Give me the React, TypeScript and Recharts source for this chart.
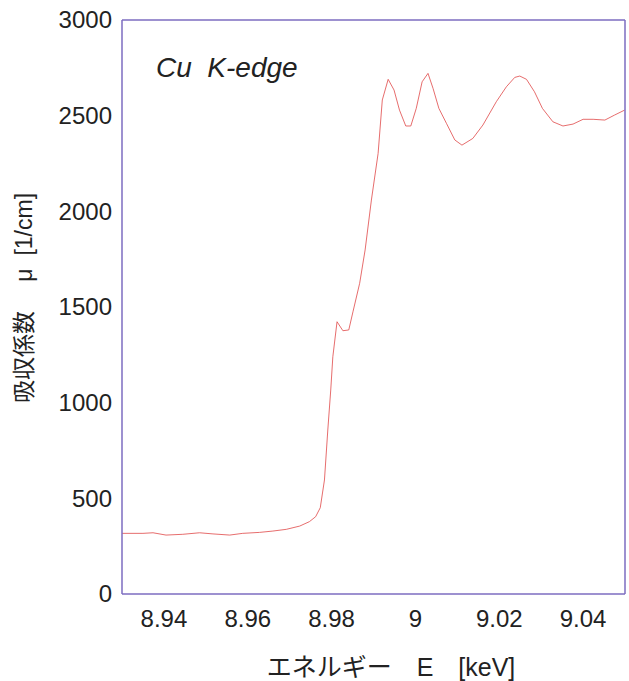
import { LineChart, Line, XAxis, YAxis } from 'recharts'

// photon energy (keV) and absorption coefficient (1/cm)
const energy = [
  8.93, 8.935, 8.9374, 8.9405, 8.9445, 8.9485, 8.9517, 8.9557, 8.9588, 8.9628,
  8.966, 8.9692, 8.9724, 8.9747, 8.9762, 8.9773, 8.9783, 8.9791, 8.9798, 8.9803,
  8.9813, 8.9827, 8.9841, 8.9851, 8.9867, 8.988, 8.9895, 8.9911, 8.9921, 8.9935,
  8.9949, 8.9962, 8.9977, 8.9989, 9.0002, 9.0016, 9.003, 9.0042, 9.0056, 9.0074,
  9.0094, 9.0111, 9.0137, 9.0161, 9.0193, 9.0217, 9.0237, 9.0249, 9.0265, 9.0284,
  9.0303, 9.0328, 9.0352, 9.0376, 9.04, 9.0424, 9.0452, 9.0475, 9.0499,
]
const mu = [
  317, 317, 320, 308, 312, 320, 314, 308, 317, 322,
  329, 338, 355, 378, 404, 451, 596, 857, 1066, 1240,
  1423, 1376, 1380, 1475, 1624, 1798, 2059, 2303, 2582, 2690,
  2634, 2529, 2446, 2446, 2538, 2677, 2721, 2643, 2538, 2460,
  2373, 2346, 2381, 2451, 2573, 2651, 2700, 2707, 2690, 2625,
  2538, 2468, 2446, 2456, 2481, 2481, 2477, 2503, 2529,
]
const xTicks = [8.94, 8.96, 8.98, 9, 9.02, 9.04]
const yTicks = [0, 500, 1000, 1500, 2000, 2500, 3000]
const xDomain = [8.93, 9.05]
const yDomain = [0, 3000]

const data = energy.map((e, i) => ({ e, mu: mu[i] }))

const box = { left: 122, right: 625, top: 20, bottom: 594 }

const font = '"Liberation Sans", Arial, "Noto Sans CJK JP", sans-serif'
const axisLine = { stroke: '#7c6cc0', strokeWidth: 1.5 }
const tickLine = { stroke: '#42309a', strokeWidth: 1.6 }

function XTick(props: any) {
  return (
    <text x={props.x} y={box.bottom + 33} textAnchor="middle" fontFamily={font} fontSize={24} fill="#222">
      {String(props.payload.value)}
    </text>
  )
}

function YTick(props: any) {
  return (
    <text x={box.left - 10} y={props.y} dy="0.35em" textAnchor="end" fontFamily={font} fontSize={24} fill="#222">
      {String(props.payload.value)}
    </text>
  )
}

// mirrored copies of the axes only carry the inward tick marks
const xMirror = {
  dataKey: 'e',
  type: 'number' as const,
  domain: xDomain,
  allowDataOverflow: true,
  ticks: xTicks,
  height: 10,
  mirror: true,
  axisLine: false,
  tickLine,
  tickSize: 9,
  tick: false,
}
const yMirror = {
  type: 'number' as const,
  domain: yDomain,
  allowDataOverflow: true,
  ticks: yTicks,
  width: 10,
  mirror: true,
  axisLine: false,
  tickLine,
  tickSize: 9,
  tick: false,
}

export default function App() {
  return (
    <div style={{ position: 'absolute', left: 0, top: 0 }}>
      <LineChart
        width={629}
        height={681}
        data={data}
        margin={{ top: box.top - 1, right: 629 - box.right - 1, bottom: 0, left: 0 }}
      >
        <XAxis
          xAxisId="b"
          dataKey="e"
          type="number"
          domain={xDomain}
          allowDataOverflow
          ticks={xTicks}
          height={681 - box.bottom}
          axisLine={axisLine}
          tickLine={false}
          tickSize={0}
          tick={<XTick />}
          label={{
            content: () => (
              <text x={391} y={676} textAnchor="middle" fontFamily={font} fontSize={25} fill="#222">
                エネルギー　E　[keV]
              </text>
            ),
          }}
        />
        <XAxis
          xAxisId="t"
          dataKey="e"
          type="number"
          orientation="top"
          domain={xDomain}
          allowDataOverflow
          ticks={xTicks}
          height={1}
          axisLine={axisLine}
          tickLine={false}
          tick={false}
          label={{
            content: () => (
              <text x={156} y={77} fontFamily={font} fontSize={28} fontStyle="italic" fill="#222">
                {'Cu\u00a0\u00a0K-edge'}
              </text>
            ),
          }}
        />
        <XAxis xAxisId="bm" orientation="bottom" {...xMirror} />
        <XAxis xAxisId="tm" orientation="top" {...xMirror} />
        <YAxis
          yAxisId="l"
          type="number"
          domain={yDomain}
          allowDataOverflow
          ticks={yTicks}
          width={box.left}
          axisLine={axisLine}
          tickLine={false}
          tickSize={0}
          tick={<YTick />}
          label={{
            content: () => (
              <text
                x={24}
                y={298}
                transform="rotate(-90, 24, 298)"
                textAnchor="middle"
                dominantBaseline="central"
                fontFamily={font}
                fontSize={23}
                fill="#222"
              >
                {'吸収係数　 μ\u00a0\u00a0[1/cm]'}
              </text>
            ),
          }}
        />
        <YAxis
          yAxisId="r"
          type="number"
          orientation="right"
          domain={yDomain}
          allowDataOverflow
          ticks={yTicks}
          width={1}
          axisLine={axisLine}
          tickLine={false}
          tick={false}
        />
        <YAxis yAxisId="lm" orientation="left" {...yMirror} />
        <YAxis yAxisId="rm" orientation="right" {...yMirror} />
        <Line
          xAxisId="b"
          yAxisId="l"
          dataKey="mu"
          type="linear"
          stroke="#e04848"
          strokeWidth={0.8}
          dot={false}
          isAnimationActive={false}
        />
      </LineChart>
    </div>
  )
}
